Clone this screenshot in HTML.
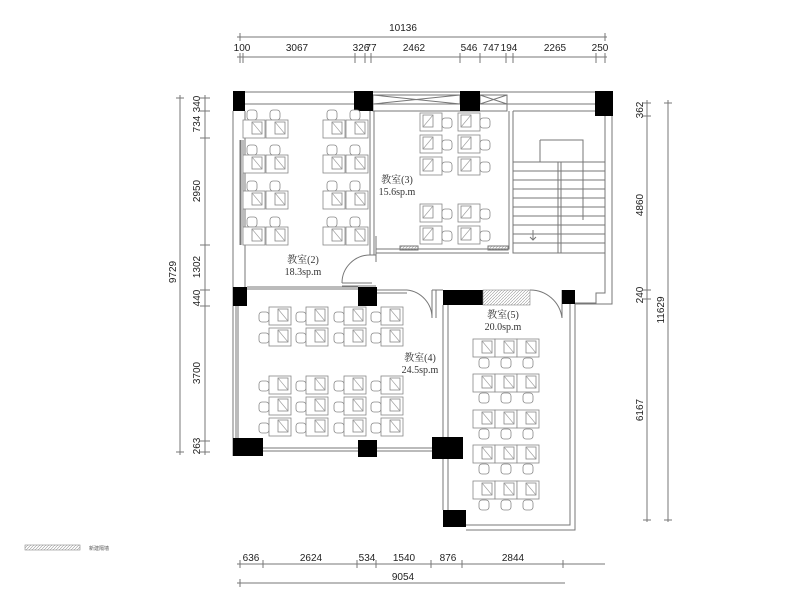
<!DOCTYPE html>
<html><head><meta charset="utf-8"><style>
html,body{margin:0;padding:0;background:#fff;}
svg{display:block;font-family:"Liberation Sans","Noto Sans CJK SC",sans-serif;}
.l{stroke:#777;stroke-width:1;fill:none;}
.t{font-size:10px;fill:#222;}
.c{font-family:"Liberation Serif","Noto Serif CJK SC",serif;font-size:10px;fill:#333;}
</style></head><body>
<svg width="800" height="611" viewBox="0 0 800 611" xmlns="http://www.w3.org/2000/svg">
<defs>
<pattern id="h" width="3" height="3" patternUnits="userSpaceOnUse"><path d="M0 3L3 0" stroke="#999" stroke-width="0.6"/></pattern>
<g id="chair"><rect x="0" y="0" width="10" height="10" rx="3" fill="#fff" stroke="#888" stroke-width="0.8"/></g>
<g id="desk"><rect x="0" y="0" width="22" height="18" fill="#fff" stroke="#888" stroke-width="0.8"/><rect x="9" y="2" width="10" height="12" fill="none" stroke="#888" stroke-width="0.8"/><path d="M9 2L19 14" stroke="#999" stroke-width="0.6"/></g>
<g id="d2"><use href="#chair" x="4" y="0"/><use href="#chair" x="27" y="0"/><use href="#desk" x="0" y="10"/><use href="#desk" x="23" y="10"/></g>
<g id="dl"><use href="#chair" x="0" y="5"/><use href="#desk" x="10" y="0"/></g>
<g id="dr"><use href="#desk" x="0" y="0" transform="translate(22 0) scale(-1 1)"/><use href="#chair" x="22" y="5"/></g>
<g id="d5"><use href="#desk" x="0" y="0"/><use href="#desk" x="22" y="0"/><use href="#desk" x="44" y="0"/><use href="#chair" x="6" y="19"/><use href="#chair" x="28" y="19"/><use href="#chair" x="50" y="19"/></g>
</defs>

<g class="l" stroke="#888">
<line x1="237" y1="37" x2="607" y2="37"/><line x1="240" y1="33" x2="240" y2="41"/><line x1="605" y1="33" x2="605" y2="41"/>
<line x1="237" y1="57" x2="607" y2="57"/>
<line x1="240" y1="53" x2="240" y2="63"/><line x1="243" y1="53" x2="243" y2="63"/><line x1="355" y1="53" x2="355" y2="63"/><line x1="365" y1="53" x2="365" y2="63"/><line x1="371" y1="53" x2="371" y2="63"/><line x1="460" y1="53" x2="460" y2="63"/><line x1="480" y1="53" x2="480" y2="63"/><line x1="506" y1="53" x2="506" y2="63"/><line x1="513" y1="53" x2="513" y2="63"/><line x1="596" y1="53" x2="596" y2="63"/><line x1="605" y1="53" x2="605" y2="63"/>
<line x1="180" y1="95" x2="180" y2="455"/><line x1="176" y1="98" x2="184" y2="98"/><line x1="176" y1="452" x2="184" y2="452"/>
<line x1="205" y1="95" x2="205" y2="455"/>
<line x1="200" y1="98" x2="210" y2="98"/><line x1="200" y1="111" x2="210" y2="111"/><line x1="200" y1="138" x2="210" y2="138"/><line x1="200" y1="245" x2="210" y2="245"/><line x1="200" y1="290" x2="210" y2="290"/><line x1="200" y1="306" x2="210" y2="306"/><line x1="200" y1="441" x2="210" y2="441"/><line x1="200" y1="452" x2="210" y2="452"/>
<line x1="647" y1="100" x2="647" y2="522"/><line x1="643" y1="103" x2="651" y2="103"/><line x1="643" y1="116" x2="651" y2="116"/><line x1="643" y1="290" x2="651" y2="290"/><line x1="643" y1="299" x2="651" y2="299"/><line x1="643" y1="520" x2="651" y2="520"/>
<line x1="668" y1="100" x2="668" y2="522"/><line x1="664" y1="103" x2="672" y2="103"/><line x1="664" y1="520" x2="672" y2="520"/>
<line x1="237" y1="564" x2="605" y2="564"/><line x1="240" y1="560" x2="240" y2="568"/><line x1="263" y1="560" x2="263" y2="568"/><line x1="357" y1="560" x2="357" y2="568"/><line x1="376" y1="560" x2="376" y2="568"/><line x1="431" y1="560" x2="431" y2="568"/><line x1="462" y1="560" x2="462" y2="568"/><line x1="563" y1="560" x2="563" y2="568"/>
<line x1="237" y1="583" x2="565" y2="583"/><line x1="240" y1="579" x2="240" y2="587"/>
</g>
<text class="t" x="403" y="31" text-anchor="middle">10136</text>
<g class="t" font-size="9">
<text x="242" y="51" text-anchor="middle">100</text><text x="297" y="51" text-anchor="middle">3067</text><text x="361" y="51" text-anchor="middle">326</text><text x="371" y="51" text-anchor="middle">77</text><text x="414" y="51" text-anchor="middle">2462</text><text x="469" y="51" text-anchor="middle">546</text><text x="491" y="51" text-anchor="middle">747</text><text x="509" y="51" text-anchor="middle">194</text><text x="555" y="51" text-anchor="middle">2265</text><text x="600" y="51" text-anchor="middle">250</text>
<text transform="translate(200 104) rotate(-90)" text-anchor="middle">340</text>
<text transform="translate(200 124) rotate(-90)" text-anchor="middle">734</text>
<text transform="translate(200 191) rotate(-90)" text-anchor="middle">2950</text>
<text transform="translate(200 267) rotate(-90)" text-anchor="middle">1302</text>
<text transform="translate(200 298) rotate(-90)" text-anchor="middle">440</text>
<text transform="translate(200 373) rotate(-90)" text-anchor="middle">3700</text>
<text transform="translate(200 446) rotate(-90)" text-anchor="middle">263</text>
<text transform="translate(176 272) rotate(-90)" text-anchor="middle">9729</text>
<text transform="translate(643 110) rotate(-90)" text-anchor="middle">362</text>
<text transform="translate(643 205) rotate(-90)" text-anchor="middle">4860</text>
<text transform="translate(643 295) rotate(-90)" text-anchor="middle">240</text>
<text transform="translate(643 410) rotate(-90)" text-anchor="middle">6167</text>
<text transform="translate(664 310) rotate(-90)" text-anchor="middle">11629</text>
<text x="251" y="561" text-anchor="middle">636</text><text x="311" y="561" text-anchor="middle">2624</text><text x="367" y="561" text-anchor="middle">534</text><text x="404" y="561" text-anchor="middle">1540</text><text x="448" y="561" text-anchor="middle">876</text><text x="513" y="561" text-anchor="middle">2844</text>
</g>
<text class="t" x="403" y="580" text-anchor="middle">9054</text>
<rect x="25" y="545" width="55" height="5" fill="url(#h)" stroke="#888" stroke-width="0.6"/>
<text x="89" y="550" font-size="5" fill="#555">新建隔墙</text>

<g class="l">
<path d="M233 92H612V304H575"/>
<path d="M245 104H354M373 104H460M480 104H596"/>
<path d="M373 104V111H507V104"/><rect x="373" y="95" width="87" height="9"/><path d="M373 95L460 104M373 104L460 95"/>
<rect x="480" y="95" width="27" height="9"/><path d="M480 95L507 104M480 104L507 95"/>
<path d="M245 111V287M240 140V245M241 140V245M243 140V245"/>
<path d="M370 111V255M374 111V255M370 255H376M374 255V236M376 236V262"/>
<path d="M342 283A28 28 0 0 1 370 255M342 283H372M342 286H376"/>
<path d="M247 287H358M247 289H358"/>
<path d="M377 290H407M377 293H407M407 290A28 28 0 0 1 432 318"/>
<path d="M432 290H443M432 290V318M436 290V318"/>
<path d="M376 249H509V111M376 253H509"/>
<rect x="400" y="246" width="18" height="4" fill="url(#h)"/><rect x="488" y="246" width="20" height="4" fill="url(#h)"/>
<path d="M513 253H605M513 111V253"/>
<path d="M513 111H596M605 116V293H596V303H575"/>
<path d="M540 140H583V162M540 140V162"/>
<rect x="513" y="162" width="92" height="91"/>
<path d="M513 171H605M513 180H605M513 189H605M513 198H605M513 207H605M513 216H605M513 225H605M513 234H605M513 243H605"/>
<path d="M558 162V253M561 162V253M583 162V220M533 230V240M530 237L533 240L536 237"/>
<path d="M530 290A32 32 0 0 1 562 318M562 290V318"/>
<path d="M233 111V456M236 300V440M238 300V440"/>
<path d="M263 448H358M263 451H358M377 448H432M377 451H432"/>
<path d="M443 305V510M448 305V510M570 304V525H466M575 304V530H466"/>
</g>
<g fill="#000">
<rect x="233" y="91" width="12" height="20"/><rect x="354" y="91" width="19" height="20"/><rect x="460" y="91" width="20" height="20"/><rect x="595" y="91" width="18" height="25"/>
<rect x="233" y="287" width="14" height="19"/><rect x="358" y="287" width="19" height="19"/>
<rect x="443" y="290" width="40" height="15"/><rect x="562" y="290" width="13" height="14"/>
<rect x="233" y="438" width="30" height="18"/><rect x="358" y="440" width="19" height="17"/><rect x="432" y="437" width="31" height="22"/>
<rect x="443" y="510" width="23" height="17"/>
</g>
<rect x="483" y="290" width="47" height="15" fill="url(#h)" stroke="#888" stroke-width="0.6"/>

<use href="#d2" x="243" y="110"/><use href="#d2" x="243" y="145"/><use href="#d2" x="243" y="181"/><use href="#d2" x="243" y="217"/>
<use href="#d2" x="323" y="110"/><use href="#d2" x="323" y="145"/><use href="#d2" x="323" y="181"/><use href="#d2" x="323" y="217"/>
<use href="#dr" x="420" y="113"/><use href="#dr" x="420" y="135"/><use href="#dr" x="420" y="157"/>
<use href="#dr" x="458" y="113"/><use href="#dr" x="458" y="135"/><use href="#dr" x="458" y="157"/>
<use href="#dr" x="420" y="204"/><use href="#dr" x="420" y="226"/>
<use href="#dr" x="458" y="204"/><use href="#dr" x="458" y="226"/>
<g>
<use href="#dl" x="259" y="307"/><use href="#dl" x="296" y="307"/><use href="#dl" x="334" y="307"/><use href="#dl" x="371" y="307"/>
<use href="#dl" x="259" y="328"/><use href="#dl" x="296" y="328"/><use href="#dl" x="334" y="328"/><use href="#dl" x="371" y="328"/>
<use href="#dl" x="259" y="376"/><use href="#dl" x="296" y="376"/><use href="#dl" x="334" y="376"/><use href="#dl" x="371" y="376"/>
<use href="#dl" x="259" y="397"/><use href="#dl" x="296" y="397"/><use href="#dl" x="334" y="397"/><use href="#dl" x="371" y="397"/>
<use href="#dl" x="259" y="418"/><use href="#dl" x="296" y="418"/><use href="#dl" x="334" y="418"/><use href="#dl" x="371" y="418"/>
</g>
<use href="#d5" x="473" y="339"/><use href="#d5" x="473" y="374"/><use href="#d5" x="473" y="410"/><use href="#d5" x="473" y="445"/><use href="#d5" x="473" y="481"/>

<text class="c" x="303" y="263" text-anchor="middle">教室(2)</text><text class="c" x="303" y="275" text-anchor="middle">18.3sp.m</text>
<text class="c" x="397" y="183" text-anchor="middle">教室(3)</text><text class="c" x="397" y="195" text-anchor="middle">15.6sp.m</text>
<text class="c" x="420" y="361" text-anchor="middle">教室(4)</text><text class="c" x="420" y="373" text-anchor="middle">24.5sp.m</text>
<text class="c" x="503" y="318" text-anchor="middle">教室(5)</text><text class="c" x="503" y="330" text-anchor="middle">20.0sp.m</text>
</svg>
</body></html>
